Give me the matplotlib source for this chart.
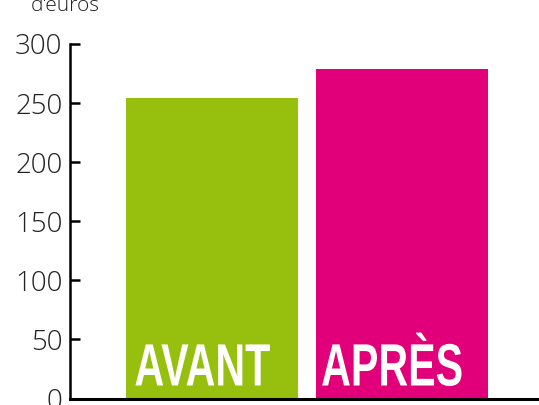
import matplotlib
matplotlib.use("Agg")
import matplotlib.pyplot as plt
from matplotlib.patheffects import AbstractPathEffect
from matplotlib.transforms import Affine2D

categories = ["AVANT", "APRÈS"]
values = [254, 279]
colors = ["#97BF0D", "#E2007A"]
yticks = [0, 50, 100, 150, 200, 250, 300]
unit_label = "d'euros"


class Squeeze(AbstractPathEffect):
    """Horizontally condense a text path around its centre."""
    def __init__(self, sx):
        super().__init__()
        self.sx = sx

    def draw_path(self, renderer, gc, tpath, affine, rgbFace=None):
        v = affine.transform(tpath.vertices)
        cx = (v[:, 0].min() + v[:, 0].max()) / 2
        new = affine + Affine2D().translate(-cx, 0).scale(self.sx, 1).translate(cx, 0)
        renderer.draw_path(gc, tpath, new, rgbFace)


fig = plt.figure(figsize=(5.39, 4.05), dpi=100)
ax = fig.add_axes([70 / 539, (405 - 398.5) / 405, 1 - 70 / 539, (398.5 - 44) / 405])

x = list(range(len(categories)))
ax.bar(x, values, width=0.905, color=colors, zorder=2)

ax.set_ylim(0, 300)
ax.set_xlim(-0.747, 1.721)
ax.set_yticks(yticks)
ax.set_xticks([])

for s in ["top", "right"]:
    ax.spines[s].set_visible(False)
ax.spines["left"].set_linewidth(1.8)
ax.spines["bottom"].set_linewidth(2.2)
ax.spines["left"].set_zorder(3)
ax.spines["bottom"].set_zorder(3)
ax.spines["bottom"].set_capstyle("projecting")

ax.tick_params(axis="y", direction="in", length=7.5, width=1.8, pad=5.5,
               labelsize=20, colors="black")
for lab in ax.get_yticklabels():
    lab.set_family(["Open Sans", "DejaVu Sans"])
    lab.set_fontweight("light")
    lab.set_color("#222222")

for xi, cat in zip(x, categories):
    ax.text(xi - 0.05, 11, cat, ha="center", va="baseline", color="white",
            fontsize=43, fontweight="bold", family=["Liberation Sans", "DejaVu Sans"],
            path_effects=[Squeeze(0.69)], zorder=4)

fig.text(31 / 539, 1 - 11 / 405, unit_label, ha="left", va="baseline",
         fontsize=15, fontweight="light", family=["Open Sans", "DejaVu Sans"],
         color="#222222")

fig.savefig("out.png", dpi=100)
